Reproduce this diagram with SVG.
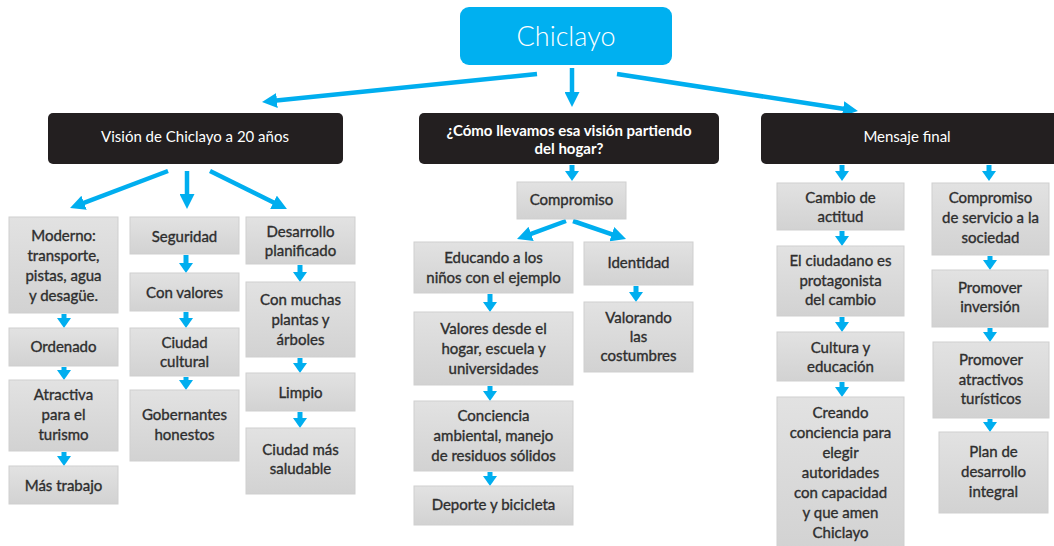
<svg xmlns="http://www.w3.org/2000/svg" width="1054" height="546" viewBox="0 0 1054 546">
<style>
.g{fill:url(#gg);stroke:#cfcfcf;stroke-width:1}
.k{fill:#231f20}
.t{font-family:Lato,"Liberation Sans",sans-serif;font-size:15px;fill:#2e2e2e;stroke:#2e2e2e;stroke-width:0.35;text-anchor:middle}
.h{font-family:Lato,"Liberation Sans",sans-serif;font-size:15px;fill:#ffffff;text-anchor:middle}
.hb{font-weight:bold}
.c line{stroke:#00aeef;fill:none}
.big{stroke-width:4.5;marker-end:url(#mb)}
.sm{stroke-width:5;marker-end:url(#ms)}
</style>
<defs>
<linearGradient id="gg" x1="0" y1="0" x2="0" y2="1"><stop offset="0" stop-color="#e2e2e2"/><stop offset="1" stop-color="#d2d2d2"/></linearGradient>
<marker id="mb" markerUnits="userSpaceOnUse" markerWidth="16" markerHeight="15" refX="8" refY="7.5" orient="auto"><path d="M0,0 L15,7.5 L0,15 z" fill="#00aeef"/></marker>
<marker id="ms" markerUnits="userSpaceOnUse" markerWidth="11" markerHeight="14" refX="4" refY="7" orient="auto"><path d="M0,0 L10,7 L0,14 z" fill="#00aeef"/></marker>
</defs>
<rect width="1054" height="546" fill="#ffffff"/>

<g class="c" id="connectors">
<line class="big" x1="537" y1="74" x2="269" y2="101.3"/>
<line class="big" x1="572" y1="68" x2="572" y2="100"/>
<line class="big" x1="617" y1="74" x2="851" y2="110"/>
<line class="big" x1="168" y1="171" x2="76.6" y2="205.6"/>
<line class="big" x1="187" y1="171" x2="187" y2="202"/>
<line class="big" x1="210" y1="171" x2="280.7" y2="205.9"/>
<line class="sm" x1="572" y1="165" x2="572" y2="175"/>
<line class="big" x1="566" y1="221" x2="523.6" y2="236.6"/>
<line class="big" x1="573" y1="221" x2="619.4" y2="236.8"/>
<line class="sm" x1="842" y1="165" x2="842" y2="175"/>
<line class="sm" x1="989" y1="165" x2="989" y2="175"/>
<line class="sm" x1="64" y1="314" x2="64" y2="322"/>
<line class="sm" x1="64" y1="367" x2="64" y2="374"/>
<line class="sm" x1="64" y1="452" x2="64" y2="460"/>
<line class="sm" x1="186" y1="255" x2="186" y2="267"/>
<line class="sm" x1="186" y1="312" x2="186" y2="322"/>
<line class="sm" x1="186" y1="377" x2="186" y2="384"/>
<line class="sm" x1="300" y1="265" x2="300" y2="276"/>
<line class="sm" x1="300" y1="358" x2="300" y2="367"/>
<line class="sm" x1="300" y1="412" x2="300" y2="422"/>
<line class="sm" x1="490" y1="294" x2="490" y2="306"/>
<line class="sm" x1="490" y1="386" x2="490" y2="395"/>
<line class="sm" x1="490" y1="472" x2="490" y2="480"/>
<line class="sm" x1="636" y1="286" x2="636" y2="296"/>
<line class="sm" x1="842" y1="231" x2="842" y2="240"/>
<line class="sm" x1="842" y1="317" x2="842" y2="326"/>
<line class="sm" x1="842" y1="382" x2="842" y2="391"/>
<line class="sm" x1="990" y1="256" x2="990" y2="264"/>
<line class="sm" x1="990" y1="328" x2="990" y2="336"/>
<line class="sm" x1="990" y1="419" x2="990" y2="426"/>
</g>

<g id="chiclayo"><rect x="460" y="7" width="212" height="58" rx="9" fill="#00b0f0"/><text x="566" y="46" font-family="Lato,'Liberation Sans',sans-serif" font-size="27" font-weight="300" fill="#ffffff" text-anchor="middle">Chiclayo</text></g>

<g id="vision"><rect class="k" x="48" y="113" width="295" height="51" rx="5"/><text class="h" x="195" y="142">Visión de Chiclayo a 20 años</text></g>
<g id="como"><rect class="k" x="419" y="113" width="300" height="51" rx="5"/><text class="h hb" x="569" y="136">¿Cómo llevamos esa visión partiendo<tspan x="569" dy="18">del hogar?</tspan></text></g>
<g id="mensaje"><rect class="k" x="761" y="113" width="300" height="51" rx="5"/><text class="h" x="907" y="142">Mensaje final</text></g>

<g id="moderno"><rect class="g" x="9" y="217" width="109" height="96"/><text class="t" x="63.5" y="241">Moderno:<tspan x="63.5" dy="20">transporte,</tspan><tspan x="63.5" dy="20">pistas, agua</tspan><tspan x="63.5" dy="20">y desagüe.</tspan></text></g>
<g id="ordenado"><rect class="g" x="9" y="328" width="109" height="38"/><text class="t" x="63.5" y="352">Ordenado</text></g>
<g id="atractiva"><rect class="g" x="9" y="380" width="109" height="71"/><text class="t" x="63.5" y="400">Atractiva<tspan x="63.5" dy="20">para el</tspan><tspan x="63.5" dy="20">turismo</tspan></text></g>
<g id="mastrabajo"><rect class="g" x="9" y="466" width="109" height="38"/><text class="t" x="63.5" y="491">Más trabajo</text></g>

<g id="seguridad"><rect class="g" x="130" y="217" width="109" height="37"/><text class="t" x="184.5" y="242">Seguridad</text></g>
<g id="convalores"><rect class="g" x="130" y="273" width="109" height="38"/><text class="t" x="184.5" y="298">Con valores</text></g>
<g id="ciudadcultural"><rect class="g" x="130" y="328" width="109" height="48"/><text class="t" x="184.5" y="348">Ciudad<tspan x="184.5" dy="19">cultural</tspan></text></g>
<g id="gobernantes"><rect class="g" x="130" y="390" width="109" height="71"/><text class="t" x="184.5" y="420">Gobernantes<tspan x="184.5" dy="20">honestos</tspan></text></g>

<g id="desarrollo"><rect class="g" x="246" y="217" width="109" height="47"/><text class="t" x="300.5" y="237">Desarrollo<tspan x="300.5" dy="19">planificado</tspan></text></g>
<g id="plantas"><rect class="g" x="246" y="282" width="109" height="75"/><text class="t" x="300.5" y="305">Con muchas<tspan x="300.5" dy="20">plantas y</tspan><tspan x="300.5" dy="20">árboles</tspan></text></g>
<g id="limpio"><rect class="g" x="246" y="373" width="109" height="38"/><text class="t" x="300.5" y="398">Limpio</text></g>
<g id="saludable"><rect class="g" x="246" y="428" width="109" height="66"/><text class="t" x="300.5" y="455">Ciudad más<tspan x="300.5" dy="19">saludable</tspan></text></g>

<g id="compromiso"><rect class="g" x="517" y="182" width="109" height="37"/><text class="t" x="571.5" y="205">Compromiso</text></g>
<g id="educando"><rect class="g" x="414" y="242" width="159" height="51"/><text class="t" x="493.5" y="263">Educando a los<tspan x="493.5" dy="20">niños con el ejemplo</tspan></text></g>
<g id="valoreshogar"><rect class="g" x="414" y="312" width="159" height="73"/><text class="t" x="493.5" y="334">Valores desde el<tspan x="493.5" dy="20">hogar, escuela y</tspan><tspan x="493.5" dy="20">universidades</tspan></text></g>
<g id="conciencia"><rect class="g" x="414" y="401" width="159" height="70"/><text class="t" x="493.5" y="421">Conciencia<tspan x="493.5" dy="20">ambiental, manejo</tspan><tspan x="493.5" dy="20">de residuos sólidos</tspan></text></g>
<g id="deporte"><rect class="g" x="414" y="486" width="159" height="39"/><text class="t" x="493.5" y="510">Deporte y bicicleta</text></g>
<g id="identidad"><rect class="g" x="584" y="242" width="109" height="43"/><text class="t" x="638.5" y="268">Identidad</text></g>
<g id="valorando"><rect class="g" x="584" y="302" width="109" height="70"/><text class="t" x="638.5" y="323">Valorando<tspan x="638.5" dy="19">las</tspan><tspan x="638.5" dy="19">costumbres</tspan></text></g>

<g id="cambio"><rect class="g" x="777" y="183" width="127" height="47"/><text class="t" x="840.5" y="203">Cambio de<tspan x="840.5" dy="19">actitud</tspan></text></g>
<g id="ciudadano"><rect class="g" x="777" y="246" width="127" height="70"/><text class="t" x="840.5" y="266">El ciudadano es<tspan x="840.5" dy="20">protagonista</tspan><tspan x="840.5" dy="19">del cambio</tspan></text></g>
<g id="cultura"><rect class="g" x="777" y="332" width="127" height="49"/><text class="t" x="840.5" y="353">Cultura y<tspan x="840.5" dy="19">educación</tspan></text></g>
<g id="creando"><rect class="g" x="777" y="397" width="127" height="155"/><text class="t" x="840.5" y="418">Creando<tspan x="840.5" dy="20">conciencia para</tspan><tspan x="840.5" dy="20">elegir</tspan><tspan x="840.5" dy="20">autoridades</tspan><tspan x="840.5" dy="20">con capacidad</tspan><tspan x="840.5" dy="20">y que amen</tspan><tspan x="840.5" dy="20">Chiclayo</tspan></text></g>

<g id="servicio"><rect class="g" x="932" y="183" width="117" height="72"/><text class="t" x="990.5" y="203">Compromiso<tspan x="990.5" dy="20">de servicio a la</tspan><tspan x="990.5" dy="20">sociedad</tspan></text></g>
<g id="inversion"><rect class="g" x="932" y="270" width="116" height="57"/><text class="t" x="990" y="293">Promover<tspan x="990" dy="19">inversión</tspan></text></g>
<g id="atractivos"><rect class="g" x="933" y="342" width="116" height="76"/><text class="t" x="991" y="365">Promover<tspan x="991" dy="20">atractivos</tspan><tspan x="991" dy="19">turísticos</tspan></text></g>
<g id="plan"><rect class="g" x="939" y="432" width="109" height="81"/><text class="t" x="993.5" y="457">Plan de<tspan x="993.5" dy="20">desarrollo</tspan><tspan x="993.5" dy="20">integral</tspan></text></g>
</svg>
